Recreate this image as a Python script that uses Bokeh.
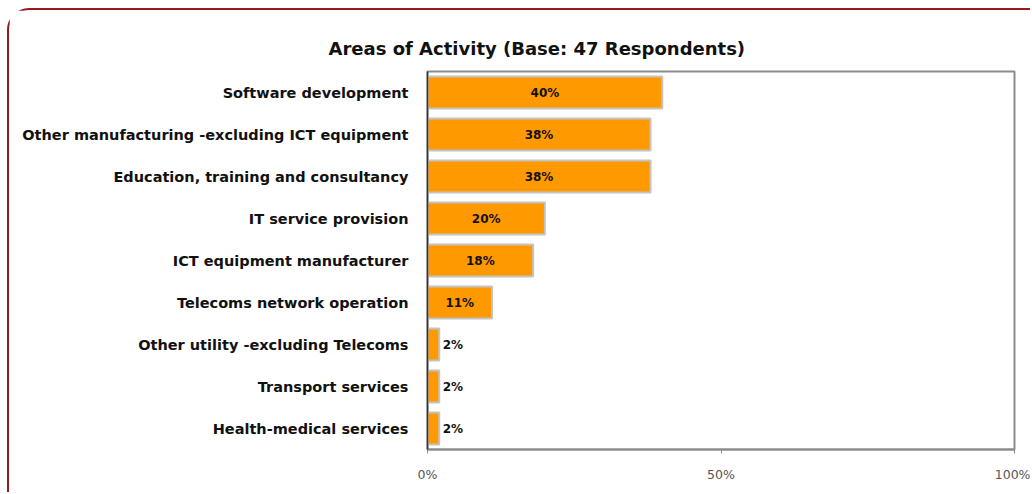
from bokeh.plotting import figure
from bokeh.models import ColumnDataSource, FactorRange, Range1d, FixedTicker
from bokeh.core.properties import value
from bokeh.embed import file_html
from bokeh.resources import INLINE

title_text = "Areas of Activity (Base: 47 Respondents)"
categories = [
    "Software development",
    "Other manufacturing -excluding ICT equipment",
    "Education, training and consultancy",
    "IT service provision",
    "ICT equipment manufacturer",
    "Telecoms network operation",
    "Other utility -excluding Telecoms",
    "Transport services",
    "Health-medical services",
]
values = [40, 38, 38, 20, 18, 11, 2, 2, 2]
tick_values = [0, 50, 100]
tick_labels = ["0%", "50%", "100%"]

FONT = "DejaVu Sans"

p = figure(
    width=1023, height=484,
    y_range=FactorRange(factors=categories[::-1]),
    x_range=Range1d(0, 100),
    output_backend="svg", toolbar_location=None,
    min_border_left=418, min_border_right=18,
    min_border_top=61, min_border_bottom=45,
)
p.styles = {
    "border-top": "2px solid #951B1E",
    "border-left": "2px solid #951B1E",
    "border-top-left-radius": "22px",
    "margin-left": "7px",
    "margin-top": "8px",
}

src = ColumnDataSource(dict(cat=categories, val=values))
p.hbar(y="cat", left=0, right="val", height=0.76, source=src,
       fill_color="#FF9900", line_color="#C4C4C4", line_width=2)

inside = [i for i, v in enumerate(values) if v >= 5]
outside = [i for i, v in enumerate(values) if v < 5]
src_in = ColumnDataSource(dict(
    x=[values[i] / 2 for i in inside],
    y=[categories[i] for i in inside],
    t=[f"{values[i]}%" for i in inside]))
src_out = ColumnDataSource(dict(
    x=[values[i] + 0.6 for i in outside],
    y=[categories[i] for i in outside],
    t=[f"{values[i]}%" for i in outside]))
p.text(x="x", y="y", text="t", source=src_in, text_align="center",
       text_baseline="middle", text_font=value(FONT), text_font_style="bold",
       text_font_size="12px", text_color="#111111")
p.text(x="x", y="y", text="t", source=src_out, text_align="left",
       text_baseline="middle", text_font=value(FONT), text_font_style="bold",
       text_font_size="12px", text_color="#111111")

p.title.text = title_text
p.title.align = "left"
p.title.offset = -99
p.title.text_font = FONT
p.title.text_font_style = "bold"
p.title.text_font_size = "18px"
p.title.text_color = "#111111"
p.title.standoff = 26

p.xgrid.visible = False
p.ygrid.visible = False
p.outline_line_color = "#8C8C8C"
p.outline_line_width = 2

xa = p.xaxis[0]
xa.ticker = FixedTicker(ticks=tick_values)
xa.major_label_overrides = {v: l for v, l in zip(tick_values, tick_labels)}
xa.axis_line_color = "#8C8C8C"
xa.axis_line_width = 2
xa.major_tick_line_color = "#8C8C8C"
xa.major_tick_in = 0
xa.major_tick_out = 4
xa.minor_tick_line_color = None
xa.major_label_text_font = FONT
xa.major_label_text_font_size = "12.5px"
xa.major_label_text_color = "#555555"
xa.major_label_standoff = 13

ya = p.yaxis[0]
ya.axis_line_color = "#333333"
ya.axis_line_width = 1.5
ya.major_tick_line_color = None
ya.major_tick_out = 0
ya.major_tick_in = 0
ya.minor_tick_line_color = None
ya.major_label_text_font = FONT
ya.major_label_text_font_style = "bold"
ya.major_label_text_font_size = "14.5px"
ya.major_label_text_color = "#111111"
ya.major_label_standoff = 19

open("out.html", "w").write(file_html(p, INLINE))
